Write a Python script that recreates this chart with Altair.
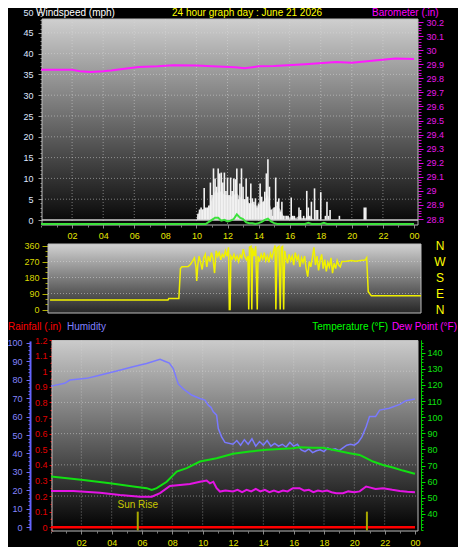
import altair as alt
import pandas as pd

W, H = 450, 539
FONT = "Liberation Sans"

# ---------------- data: top panel ----------------
baro_hours = [0, 2, 2.5, 3.2, 4, 4.5, 5.5, 6.3, 7.5, 8.5, 10, 11, 12.5, 13.1, 14, 15, 17, 19, 20, 21.8, 22.8, 24]
baro_vals = [29.86, 29.86, 29.85, 29.845, 29.85, 29.855, 29.87, 29.88, 29.885, 29.893, 29.89, 29.885,
             29.878, 29.872, 29.885, 29.887, 29.90, 29.915, 29.91, 29.93, 29.94, 29.937]

gust_start = 10.0
gust_vals = [0, 1.5, 2.5, 3, 2.5, 7.7, 3, 3, 3.5, 9,
             6, 12.4, 10, 8, 12.4, 11.2, 11.4, 9, 11.4, 7,
             10.2, 6, 10.2, 7, 10, 9.8, 12.4, 5, 8.8, 12.4,
             8, 5, 10, 5.6, 4, 8.8, 5.2, 4.4, 5.2, 3,
             4, 8.8, 5.6, 4.4, 6.8, 11.2, 14.6, 8, 2.4, 1,
             3, 10.2, 4.4, 5.2, 2, 4.4, 1, 0, 1, 1,
             0, 5.4, 1, 1, 0, 0, 3, 2.4, 0, 1,
             0, 7, 3, 1, 4.4, 0, 7.6, 2.4, 2.4, 0,
             6.7, 0, 0, 1, 4.4, 1, 2.4, 0, 0, 0,
             0, 0, 1]
late_gust_hours = [20.8, 20.9]
late_gust_vals = [3, 3]

gray_start = 10.0
gray_vals = [0, 2.5, 2.5, 2.8, 3, 5, 7, 6.5, 7, 6, 6, 5.5, 6, 6.5, 5.5, 5, 5, 4, 4, 3.5,
             3.5, 4, 5, 6, 2.5, 3, 3.5, 2.5, 1, 1, 0.5, 1, 0.5, 1, 0.5, 0.5, 1, 0.5, 0]

avg_hours = [0, 10.6, 10.8, 11.0, 11.2, 11.4, 11.6, 11.8, 12.0, 12.2, 12.4, 12.6, 12.8, 13.0, 13.2,
             13.4, 13.6, 13.8, 14.0, 14.2, 14.4, 14.6, 14.8, 15.0, 15.2, 17.0, 17.2, 17.4, 18.0,
             18.2, 18.4, 24]
avg_vals = [0, 0, 0.5, 1.0, 1.5, 1.5, 0.8, 1.0, 0.6, 0.8, 1.2, 2.3, 1.5, 1.2, 0.4,
            0.2, 0.2, 0, 0.2, 0.5, 1.0, 1.3, 0.6, 0.2, 0, 0, 0.3, 0, 0,
            0.3, 0, 0]

# ---------------- data: wind direction ----------------
dir_hours = [0.1, 7.7, 7.75, 8.4, 8.5, 8.6, 9.0, 9.15, 9.3, 9.4,
             9.5, 9.55, 9.62, 9.7, 9.8, 9.9, 10.0, 10.1, 10.2, 10.3,
             10.4, 10.5, 10.6, 10.7, 10.8, 10.9, 11.0, 11.1, 11.2, 11.3,
             11.4, 11.5, 11.6, 11.65, 11.7, 11.75, 11.85, 11.95, 12.05, 12.15,
             12.25, 12.35, 12.45, 12.55, 12.65, 12.75, 12.85, 12.9, 12.95, 13.05,
             13.1, 13.15, 13.25, 13.35, 13.45, 13.5, 13.6, 13.7, 13.8, 13.9,
             14.0, 14.1, 14.2, 14.3, 14.4, 14.5, 14.6, 14.65, 14.72, 14.85,
             14.93, 15.0, 15.08, 15.15, 15.22, 15.3, 15.4, 15.5, 15.6, 15.7,
             15.8, 15.9, 16.0, 16.1, 16.2, 16.3, 16.4, 16.5, 16.6, 16.7,
             16.8, 16.9, 17.0, 17.1, 17.2, 17.3, 17.4, 17.5, 17.6, 17.7,
             17.8, 17.9, 18.0, 18.1, 18.2, 18.3, 18.4, 18.5, 18.6, 18.7,
             18.8, 18.9, 19.2, 19.5, 19.8, 20.1, 20.4, 20.5, 20.6, 20.8,
             24.0]
dir_vals = [53, 53, 62, 62, 230, 240, 242, 255, 275, 290,
            240, 160, 250, 300, 265, 225, 290, 310, 240, 300,
            270, 320, 285, 205, 330, 300, 320, 280, 310, 295,
            330, 300, 350, 0, 0, 300, 285, 310, 280, 300,
            270, 305, 290, 340, 300, 280, 300, 0, 350, 355,
            0, 345, 300, 355, 0, 300, 270, 310, 285, 320,
            275, 300, 265, 315, 290, 330, 360, 0, 345, 355,
            0, 350, 355, 0, 330, 290, 260, 310, 275, 300,
            250, 320, 280, 300, 240, 290, 265, 300, 230, 185,
            270, 240, 290, 350, 250, 300, 220, 275, 310, 230,
            280, 215, 265, 240, 290, 205, 260, 230, 275, 250,
            240, 270, 272, 275, 272, 276, 278, 292, 100, 78,
            78]
compass_deg = [360, 270, 180, 90, 0]
compass_txt = ["N", "W", "S", "E", "N"]

# ---------------- data: bottom panel ----------------
rain_hours = [0, 24]
rain_vals = [0, 0]

hum_hours = [0, 0.9, 1.25, 2.35, 3.0, 4.33, 5.4, 6.3, 7.19, 7.5, 7.8, 8.06, 8.39, 8.72, 9.27,
             9.82, 10.15, 10.37, 10.55, 10.7, 10.92, 11.03, 11.25, 11.47, 12.0,
             12.25, 12.5, 12.75, 13.0, 13.25, 13.5, 13.75, 14.0, 14.25, 14.5, 14.75, 15.0,
             15.25, 15.5, 15.75, 16.0, 16.25, 16.5, 16.75, 17.0, 17.25, 17.5, 17.75, 18.0,
             18.25, 18.5, 18.75, 19.0, 19.25, 19.5, 19.75, 20.0, 20.25, 20.5,
             20.78, 21.0, 21.4, 21.67, 22.3, 23.0, 23.4, 24.0]
hum_vals = [76.5, 78, 79.8, 80.7, 82, 84.7, 87, 88.8, 91, 90, 89, 86, 77.7, 75, 71.7,
            69.8, 68.9, 66.2, 65, 62.6, 60.8, 53.5, 49, 46, 45,
            47, 44.5, 47.5, 45, 48, 44, 46.5, 44.5, 47, 44, 45.5, 44,
            45, 43.5, 46, 44, 45, 42, 41, 42.5, 40.5, 41.5, 42, 41,
            43, 42, 42.5, 41.5, 43, 44.5, 45, 44.5, 46, 49,
            54.5, 60, 60, 63.5, 64.5, 66.6, 68.6, 69.5]

temp_hours = [0, 2.13, 3.89, 5.43, 6.31, 6.64, 6.97, 7.63, 8.29, 8.95, 9.82, 10.92, 12.0, 13.1,
              14.19, 15.95, 16.39, 17.27, 17.93, 18.81, 19.69, 20.35, 20.78, 21.23, 21.89,
              22.54, 23.2, 23.86, 24.0]
temp_vals = [63.3, 61.1, 59, 57, 56, 54.9, 56, 60, 66.3, 68.4, 72.5, 74.6, 77.3, 78.7,
             79.8, 80.8, 81.4, 81, 81, 79.3, 77.7, 76.6, 74.6, 72.5, 70.4,
             68.8, 66.9, 65.3, 65]

dew_hours = [0, 1.47, 3.23, 4.55, 5.87, 6.64, 7.19, 7.84, 8.5, 9.16, 9.82, 10.26, 10.48, 10.7,
             10.92, 11.14, 11.5, 12.0, 12.3, 12.6, 12.9, 13.2, 13.5, 13.8, 14.1, 14.4, 14.7,
             15.0, 15.3, 15.6, 15.95, 16.39, 16.7, 17.0, 17.3, 17.6, 17.9, 18.2, 18.5, 18.81,
             19.25, 19.6, 20.0, 20.35, 20.78, 21.0, 21.4, 21.89, 22.5, 23.0, 23.5, 24.0]
dew_vals = [54.3, 54.3, 53.2, 51.8, 50.7, 50.7, 52.9, 57.4, 58, 58.6, 60, 60.7, 59, 60,
            56, 53.9, 54.5, 53.9, 55, 53.5, 55, 54, 55.5, 54, 55, 53.5, 54.5,
            53.5, 54.5, 54, 56, 56, 54.5, 55, 53.5, 54.5, 54, 54.5, 53.5, 52.9,
            52.9, 54, 53.5, 54, 57, 56.5, 55.5, 56, 55, 54.3, 53.8, 53.5]

sun_hours = [5.72, 20.83]
sun_labels = ["Sun Rise", ""]

# ---------------- tick lists ----------------
hour_ticks = [2, 4, 6, 8, 10, 12, 14, 16, 18, 20, 22, 24]
hour_minor = list(range(0, 25))
hour_grid = [2, 4, 6, 8, 10, 12, 14, 16, 18, 20, 22]
wind_ticks = list(range(0, 51, 5))
wind_minor = list(range(0, 51))
wind_grid = [5, 10, 15, 20, 25, 30, 35, 40, 45]
baro_ticks = [round(28.8 + 0.1 * i, 1) for i in range(15)]
baro_minor = [round(28.8 + 0.02 * i, 2) for i in range(71)]
dir_ticks = [0, 90, 180, 270, 360]
dir_minor = list(range(0, 361, 30))
dir_grid = [90, 180, 270]
hum_ticks = list(range(0, 101, 10))
hum_minor = list(range(0, 101, 2))
rain_ticks = [round(0.1 * i, 1) for i in range(13)]
rain_minor = [round(0.05 * i, 2) for i in range(25)]
rain_grid = [0.2, 0.4, 0.6, 0.8, 1.0]
temp_ticks = list(range(40, 141, 10))
temp_minor = list(range(30, 148, 2))

HOUR_LABEL = "(datum.value % 24 < 10 ? '0' : '') + (datum.value % 24)"


def lin(dom, rng):
    return alt.Scale(domain=dom, range=rng, zero=False, nice=False)


TOPX = lin([0, 24], [33, 406])
WINDY = lin([0, 50], [212, 4])
GREENY = lin([0, 50], [216, 8])
BAROY = lin([28.8, 30.2], [211, 14])
MIDX = lin([0, 24], [40.5, 413])
DIRY = lin([0, 360], [301.5, 237.5])
BOTX = lin([0, 24], [43, 407])
HUMY = lin([-1.5, 101], [522.1, 332.9])
RAINY = lin([-0.024, 1.2], [523, 332])
TEMPY = lin([30, 148], [522.1, 331.8])

one = pd.DataFrame({"k": [0]})


def axis(orient, offset, values, color="#000", tick_color="#888", tick=4, pad=4,
         labels=True, fmt=None, expr=None, domain=False, domain_color=None,
         domain_width=1, domain_dash=None):
    kw = dict(orient=orient, offset=offset, values=values, labels=labels,
              labelColor=color, labelFont=FONT, labelFontSize=9, tickColor=tick_color,
              tickSize=tick, labelPadding=pad, domain=domain, grid=False, title=None,
              labelOverlap=False, labelFlush=False, ticks=True)
    if fmt:
        kw["format"] = fmt
    if expr:
        kw["labelExpr"] = expr
    if domain:
        kw["domainColor"] = domain_color
        kw["domainWidth"] = domain_width
        if domain_dash:
            kw["domainDash"] = domain_dash
    return alt.Axis(**kw)


def grad(top, bottom):
    return alt.Gradient(gradient="linear", x1=0, x2=0, y1=0, y2=1,
                        stops=[alt.GradientStop(offset=0, color=top),
                               alt.GradientStop(offset=1, color=bottom)])


def panel(x1, x2, y1, y2, top, bottom):
    return alt.Chart(one).mark_rect(fill=grad(top, bottom), stroke="#bdbdbd", strokeWidth=1).encode(
        x=alt.value(x1), x2=alt.value(x2), y=alt.value(y1), y2=alt.value(y2))


def vgrid(hours, scale, y1, y2, xaxis=None):
    return alt.Chart(pd.DataFrame({"h": hours})).mark_rule(
        color="#dcdcdc", strokeDash=[1, 2], opacity=0.5, strokeWidth=1).encode(
        x=alt.X("h:Q", scale=scale, axis=xaxis), y=alt.value(y1), y2=alt.value(y2))


def hgrid(vals, scale, x1, x2, yaxis=None):
    return alt.Chart(pd.DataFrame({"v": vals})).mark_rule(
        color="#dcdcdc", strokeDash=[1, 2], opacity=0.5, strokeWidth=1).encode(
        y=alt.Y("v:Q", scale=scale, axis=yaxis), x=alt.value(x1), x2=alt.value(x2))


def carrier(vals, scale, yaxis):
    return alt.Chart(pd.DataFrame({"v": vals})).mark_point(opacity=0).encode(
        y=alt.Y("v:Q", scale=scale, axis=yaxis), x=alt.value(-50))


def line(hours, vals, xs, ys, color, width, xaxis=None, yaxis=None):
    df = pd.DataFrame({"h": hours, "v": vals})
    return alt.Chart(df).mark_line(color=color, strokeWidth=width).encode(
        x=alt.X("h:Q", scale=xs, axis=xaxis), y=alt.Y("v:Q", scale=ys, axis=yaxis))


def text(t, x, y, color, align="left", baseline="top", size=10):
    return alt.Chart(one).mark_text(text=t, x=x, y=y, color=color, align=align,
                                    baseline=baseline, font=FONT, fontSize=size).encode(
        opacity=alt.value(1))


layers = []

# ================= TOP PANEL =================
layers.append(panel(34, 410, 11, 217, "#cfcfcf", "#050505"))
layers.append(vgrid(hour_grid, TOPX, 11, 217,
                    axis("bottom", -322, hour_minor, tick_color="#7a7a7a", tick=2, labels=False)))
layers.append(hgrid(wind_grid, WINDY, 34, 410,
                    axis("left", -34, wind_minor, tick_color="#8a8a8a", tick=2, labels=False)))

gray_hours = [round(gray_start + 0.2 * i, 1) for i in range(len(gray_vals))]
gray_df = pd.DataFrame({"h": gray_hours, "v": gray_vals, "z": [0] * len(gray_vals)})
layers.append(alt.Chart(gray_df).mark_area(color="#a8a8a8").encode(
    x=alt.X("h:Q", scale=TOPX, axis=None), y=alt.Y("v:Q", scale=WINDY, axis=None), y2="z:Q"))

gust_hours = [round(gust_start + 0.1 * i, 1) for i in range(len(gust_vals))] + late_gust_hours
gust_all = gust_vals + late_gust_vals
gust_df = pd.DataFrame({"h": gust_hours, "v": gust_all, "z": [0] * len(gust_all)})
layers.append(alt.Chart(gust_df).mark_rule(color="#f2f2f2", strokeWidth=1.6).encode(
    x=alt.X("h:Q", scale=TOPX,
            axis=axis("bottom", -322, hour_ticks, color="#e6e600", tick_color="#8a8a8a",
                      tick=3, pad=3, expr=HOUR_LABEL)),
    y=alt.Y("v:Q", scale=WINDY,
            axis=axis("left", -34, wind_ticks, color="#dfe6ff", tick_color="#9a9a9a",
                      tick=4, pad=5)),
    y2="z:Q"))

layers.append(alt.Chart(pd.DataFrame({"v": [0]})).mark_rule(color="#cfcfcf", strokeWidth=1.5).encode(
    y=alt.Y("v:Q", scale=WINDY, axis=None), x=alt.value(34), x2=alt.value(410)))

layers.append(line(avg_hours, avg_vals, TOPX, GREENY, "#3ee23e", 2))

layers.append(carrier(baro_minor, BAROY,
                      axis("right", -40, baro_minor, tick_color="#d000d0", tick=3, labels=False)))
layers.append(line(baro_hours, baro_vals, TOPX, BAROY, "#ff1aff", 2,
                   yaxis=axis("right", -40, baro_ticks, color="#e818e8", tick_color="#e000e0",
                              tick=5, pad=3, fmt=".3~g")))

# ================= MIDDLE PANEL =================
layers.append(panel(40, 413, 236, 305, "#d2d2d2", "#262626"))
layers.append(hgrid(dir_grid, DIRY, 40, 413,
                    axis("left", -40, dir_minor, tick_color="#a0a000", tick=3, labels=False)))
layers.append(line(dir_hours, dir_vals, MIDX, DIRY, "#f0f000", 1.5,
                   yaxis=axis("left", -40, dir_ticks, color="#d8d800", tick_color="#b0b000",
                              tick=6, pad=3)))
compass_df = pd.DataFrame({"d": compass_deg, "t": compass_txt})
layers.append(alt.Chart(compass_df).mark_text(color="#ffff00", font=FONT, fontSize=12,
                                              align="center", baseline="middle").encode(
    y=alt.Y("d:Q", scale=DIRY, axis=None), x=alt.value(432), text="t:N"))

# ================= BOTTOM PANEL =================
layers.append(panel(44, 410, 332.5, 523, "#cbcbcb", "#000000"))
layers.append(vgrid(hour_grid, BOTX, 332.5, 523,
                    axis("bottom", -16, hour_minor, tick_color="#7a7a7a", tick=2, labels=False)))
layers.append(hgrid(rain_grid, RAINY, 44, 410,
                    axis("left", -44, rain_minor, tick_color="#e00000", tick=2, labels=False)))
layers.append(carrier(hum_minor, HUMY,
                      axis("left", -22, hum_minor, tick_color="#6a6aff", tick=2, labels=False)))
layers.append(carrier(temp_minor, TEMPY,
                      axis("right", -37, temp_minor, tick_color="#00d000", tick=2, labels=False)))

layers.append(line(rain_hours, rain_vals, BOTX, RAINY, "#ff0000", 2.5,
                   yaxis=axis("left", -44, rain_ticks, color="#e00000", tick_color="#e00000",
                              tick=3, pad=2, fmt="~g", domain=True, domain_color="#ff2020",
                              domain_width=2, domain_dash=[2, 2])))
layers.append(line(hum_hours, hum_vals, BOTX, HUMY, "#7a7aff", 1.5,
                   yaxis=axis("left", -22, hum_ticks, color="#8585ff", tick_color="#6a6aff",
                              tick=4, pad=4, domain=True, domain_color="#6464ff", domain_width=2)))
layers.append(line(temp_hours, temp_vals, BOTX, TEMPY, "#12e012", 2,
                   xaxis=axis("bottom", -16, hour_ticks, color="#e6e600", tick_color="#8a8a8a",
                              tick=3, pad=4, expr=HOUR_LABEL),
                   yaxis=axis("right", -37, temp_ticks, color="#10e010", tick_color="#00e000",
                              tick=4, pad=2, domain=True, domain_color="#00c800", domain_width=1)))
layers.append(line(dew_hours, dew_vals, BOTX, TEMPY, "#e414e4", 2))

sun_df = pd.DataFrame({"h": sun_hours, "t": sun_labels})
layers.append(alt.Chart(sun_df).mark_rule(color="#a8a800", strokeWidth=2).encode(
    x=alt.X("h:Q", scale=BOTX, axis=None),
    y=alt.YDatum(0.1, scale=RAINY, axis=None), y2=alt.datum(-0.02)))
layers.append(alt.Chart(sun_df).mark_text(color="#c8c800", font=FONT, fontSize=10,
                                          baseline="bottom", align="center").encode(
    x=alt.X("h:Q", scale=BOTX, axis=None),
    y=alt.YDatum(0.112, scale=RAINY, axis=None), text="t:N"))

# ================= TITLES =================
layers.append(text("Windspeed (mph)", 28, 0, "#ffffff"))
layers.append(text("24 hour graph day : June 21 2026", 164, 0, "#ffff00"))
layers.append(text("Barometer (.in)", 364, 0, "#ff00ff"))
layers.append(text("Rainfall (.in)", 0, 319, "#ff0000", baseline="middle"))
layers.append(text("Humidity", 59, 319, "#8080ff", baseline="middle"))
layers.append(text("Temperature (°F)", 380, 319, "#00ff00", align="right", baseline="middle"))
layers.append(text("Dew Point (°F)", 449, 319, "#ff00ff", align="right", baseline="middle"))

chart = alt.layer(*layers).resolve_scale(x="independent", y="independent").properties(
    width=W, height=H, autosize=alt.AutoSizeParams(type="none"), padding=0,
    background="#000000").configure_view(stroke=None)

chart.save("out.html", embed_options={"renderer": "svg", "actions": False})
